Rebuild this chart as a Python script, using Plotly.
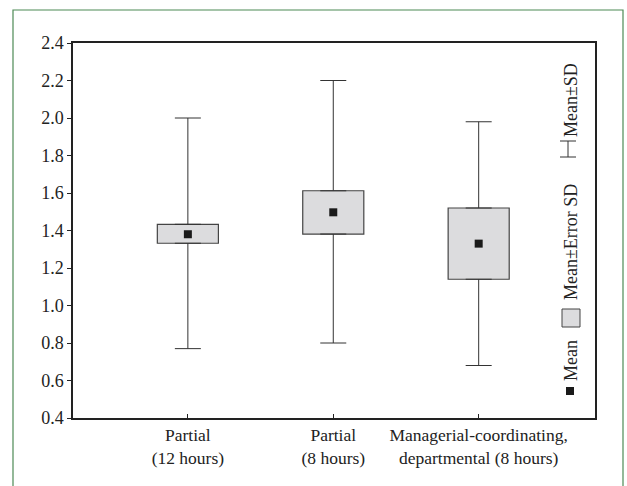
import plotly.graph_objects as go

# ---- data ----
categories = ["Partial<br>(12 hours)", "Partial<br>(8 hours)",
              "Managerial-coordinating,<br>departmental (8 hours)"]
x_pos = [0, 1, 2]
means = [1.38, 1.497, 1.33]
box_low = [1.332, 1.381, 1.14]     # Mean - Error SD
box_high = [1.433, 1.612, 1.52]    # Mean + Error SD
whisk_low = [0.77, 0.80, 0.68]     # Mean - SD
whisk_high = [2.00, 2.20, 1.98]    # Mean + SD
y_ticks = [0.4, 0.6, 0.8, 1.0, 1.2, 1.4, 1.6, 1.8, 2.0, 2.2, 2.4]

FONT = "'Liberation Serif', 'Times New Roman', 'DejaVu Serif', serif"
W, H = 627, 486
L, R, T, B = 73, 32, 43, 68
pw, ph = W - L - R, H - T - B


def px(xp):
    return (xp - L) / pw


def py(yp):
    return (H - B - yp) / ph


fig = go.Figure()

# upper whiskers (from box top to mean+SD)
fig.add_trace(go.Scatter(
    x=x_pos, y=box_high, mode="markers", marker=dict(size=0.1, color="rgba(0,0,0,0)"),
    error_y=dict(type="data", symmetric=False,
                 array=[h - b for h, b in zip(whisk_high, box_high)],
                 arrayminus=[0, 0, 0], width=13, thickness=1, color="#333"),
    hoverinfo="skip", showlegend=False))
# lower whiskers
fig.add_trace(go.Scatter(
    x=x_pos, y=box_low, mode="markers", marker=dict(size=0.1, color="rgba(0,0,0,0)"),
    error_y=dict(type="data", symmetric=False,
                 array=[0, 0, 0],
                 arrayminus=[b - l for b, l in zip(box_low, whisk_low)],
                 width=13, thickness=1, color="#333"),
    hoverinfo="skip", showlegend=False))
# boxes
fig.add_trace(go.Bar(
    x=x_pos, y=[h - l for h, l in zip(box_high, box_low)], base=box_low,
    width=0.42, marker=dict(color="#dcdcde", line=dict(color="#444", width=1.2)),
    showlegend=False))
# means
fig.add_trace(go.Scatter(
    x=x_pos, y=means, mode="markers",
    marker=dict(symbol="square", size=8, color="#1a1a1a"),
    showlegend=False))

shapes = []
# green outer frame
shapes.append(dict(type="rect", xref="paper", yref="paper",
                   x0=px(13), x1=px(623), y0=py(495), y1=py(10),
                   line=dict(color="#4d8a55", width=1.2), layer="below"))
# legend: I-bar
lx = 568
shapes += [
    dict(type="line", xref="paper", yref="paper", x0=px(lx), x1=px(lx), y0=py(157), y1=py(141),
         line=dict(color="#333", width=1)),
    dict(type="line", xref="paper", yref="paper", x0=px(lx - 8), x1=px(lx + 8), y0=py(141), y1=py(141),
         line=dict(color="#333", width=1)),
    dict(type="line", xref="paper", yref="paper", x0=px(lx - 8), x1=px(lx + 8), y0=py(157), y1=py(157),
         line=dict(color="#333", width=1)),
    # grey square
    dict(type="rect", xref="paper", yref="paper", x0=px(562), x1=px(580), y0=py(327), y1=py(309),
         fillcolor="#dcdcde", line=dict(color="#444", width=1)),
    # mean square
    dict(type="rect", xref="paper", yref="paper", x0=px(566), x1=px(574), y0=py(395), y1=py(387),
         fillcolor="#1a1a1a", line=dict(color="#1a1a1a", width=0)),
]

ann_font = dict(family=FONT, size=18, color="#222")
annotations = [
    dict(text="Mean±SD", x=px(571), y=py(100), xref="paper", yref="paper", textangle=-90,
         xanchor="center", yanchor="middle", showarrow=False, font=ann_font),
    dict(text="Mean±Error SD", x=px(571), y=py(242), xref="paper", yref="paper", textangle=-90,
         xanchor="center", yanchor="middle", showarrow=False, font=ann_font),
    dict(text="Mean", x=px(571), y=py(361), xref="paper", yref="paper", textangle=-90,
         xanchor="center", yanchor="middle", showarrow=False, font=ann_font),
]

x_tick_font = dict(family=FONT, size=17.5, color="#222")
y_tick_font = dict(family=FONT, size=18, color="#222")
fig.update_layout(
    width=W, height=H, margin=dict(l=L, r=R, t=T, b=B),
    paper_bgcolor="white", plot_bgcolor="white",
    font=y_tick_font,
    shapes=shapes, annotations=annotations, showlegend=False,
    xaxis=dict(range=[-0.79, 2.8], tickvals=x_pos, ticktext=categories,
               showgrid=False, zeroline=False, showline=True, linecolor="#222", linewidth=1.5,
               mirror=True, ticks="inside", ticklen=4, tickcolor="#222", tickwidth=1,
               tickfont=x_tick_font),
    yaxis=dict(range=[0.4, 2.4], tickvals=y_ticks, ticktext=[f"{v:.1f}" for v in y_ticks],
               showgrid=False, zeroline=False, showline=True, linecolor="#222", linewidth=1.5,
               mirror=True, ticks="outside", ticklen=4, tickcolor="#222", tickwidth=1,
               tickfont=y_tick_font),
)

fig.write_html("out.html")
